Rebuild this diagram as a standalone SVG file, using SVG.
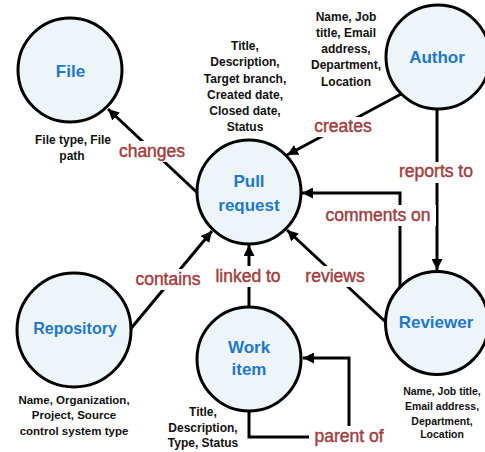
<svg xmlns="http://www.w3.org/2000/svg" width="485" height="452" viewBox="0 0 485 452">
<style>
.node{fill:#EEF5F9;stroke:#000;stroke-width:3}
.title{font-family:"Liberation Sans",Arial,sans-serif;font-weight:bold;font-size:17px;fill:#1F78C8;text-anchor:middle}
.attr{font-family:"Liberation Sans",Arial,sans-serif;font-weight:bold;font-size:12px;fill:#111;text-anchor:middle}
.edge{fill:none;stroke:#000;stroke-width:3}
.lbl{font-family:"Liberation Sans",Arial,sans-serif;font-size:17.5px;fill:#A0403F;stroke:#A0403F;stroke-width:0.45;text-anchor:middle}
.bg{fill:#fff}
</style>
<defs>
<marker id="arr" viewBox="0 0 10 10" refX="10" refY="5" markerWidth="11" markerHeight="11" markerUnits="userSpaceOnUse" orient="auto">
<path d="M0,0 L10,5 L0,10 z" fill="#000"/>
</marker>
</defs>
<rect width="485" height="452" fill="#fff"/>
<g id="connectors">
<line class="edge" x1="205" y1="200" x2="108" y2="109" marker-end="url(#arr)"/>
<line class="edge" x1="405" y1="92" x2="287" y2="155" marker-end="url(#arr)"/>
<line class="edge" x1="437" y1="105" x2="437" y2="270" marker-end="url(#arr)"/>
<polyline class="edge" points="400,292 400,193 302,193" marker-end="url(#arr)"/>
<line class="edge" x1="390" y1="326" x2="287" y2="230" marker-end="url(#arr)"/>
<line class="edge" x1="249" y1="310" x2="249" y2="245" marker-end="url(#arr)"/>
<line class="edge" x1="128" y1="332" x2="212" y2="231" marker-end="url(#arr)"/>
<polyline class="edge" points="249,405 249,437 349,437 349,358 303,358" marker-end="url(#arr)"/>
<rect class="bg" x="118" y="141" width="68" height="21"/>
<text class="lbl" x="152" y="157">changes</text>
<rect class="bg" x="311" y="117" width="64" height="20"/>
<text class="lbl" x="343" y="132">creates</text>
<rect class="bg" x="394" y="162" width="85" height="21"/>
<text class="lbl" x="436" y="177">reports to</text>
<rect class="bg" x="320" y="205" width="116" height="21"/>
<text class="lbl" x="378" y="221">comments on</text>
<rect class="bg" x="301" y="266" width="68" height="21"/>
<text class="lbl" x="335" y="282">reviews</text>
<rect class="bg" x="210" y="266" width="76" height="21"/>
<text class="lbl" x="248" y="282">linked to</text>
<rect class="bg" x="134" y="269" width="68" height="21"/>
<text class="lbl" x="168" y="285">contains</text>
<rect class="bg" x="309" y="426" width="80" height="22"/>
<text class="lbl" x="349" y="442">parent of</text>
</g>
<g id="file">
<circle class="node" cx="70" cy="70" r="52"/>
<text class="title" x="70.5" y="77">File</text>
<text class="attr" x="73" y="144">File type, File</text>
<text class="attr" x="72" y="160">path</text>
</g>
<g id="pull-request">
<circle class="node" cx="249" cy="192" r="52"/>
<text class="title" x="249" y="187">Pull</text>
<text class="title" x="249" y="211">request</text>
<text class="attr" x="245" y="50">Title,</text>
<text class="attr" x="245" y="66">Description,</text>
<text class="attr" x="245" y="83">Target branch,</text>
<text class="attr" x="245" y="99">Created date,</text>
<text class="attr" x="245" y="115">Closed date,</text>
<text class="attr" x="245" y="131">Status</text>
</g>
<g id="author">
<circle class="node" cx="438" cy="57" r="52"/>
<text class="title" x="437" y="63">Author</text>
<text class="attr" x="346" y="21">Name, Job</text>
<text class="attr" x="346" y="37">title, Email</text>
<text class="attr" x="346" y="53">address,</text>
<text class="attr" x="346" y="69">Department,</text>
<text class="attr" x="346" y="86">Location</text>
</g>
<g id="repository">
<circle class="node" cx="74" cy="330" r="57"/>
<text class="title" x="75" y="334" style="font-size:16px">Repository</text>
<text class="attr" x="74" y="404" style="font-size:11.5px">Name, Organization,</text>
<text class="attr" x="74" y="419" style="font-size:11.5px">Project, Source</text>
<text class="attr" x="74" y="435" style="font-size:11.5px">control system type</text>
</g>
<g id="work-item">
<circle class="node" cx="249" cy="359" r="52"/>
<text class="title" x="249" y="353">Work</text>
<text class="title" x="249" y="375">item</text>
<text class="attr" x="203" y="416">Title,</text>
<text class="attr" x="203" y="432">Description,</text>
<text class="attr" x="203" y="447">Type, Status</text>
</g>
<g id="reviewer">
<circle class="node" cx="437" cy="323" r="51.5"/>
<text class="title" x="436" y="328">Reviewer</text>
<text class="attr" x="442" y="395" style="font-size:10.5px">Name, Job title,</text>
<text class="attr" x="442" y="410" style="font-size:10.5px">Email address,</text>
<text class="attr" x="442" y="425" style="font-size:10.5px">Department,</text>
<text class="attr" x="442" y="438" style="font-size:10.5px">Location</text>
</g>
</svg>
